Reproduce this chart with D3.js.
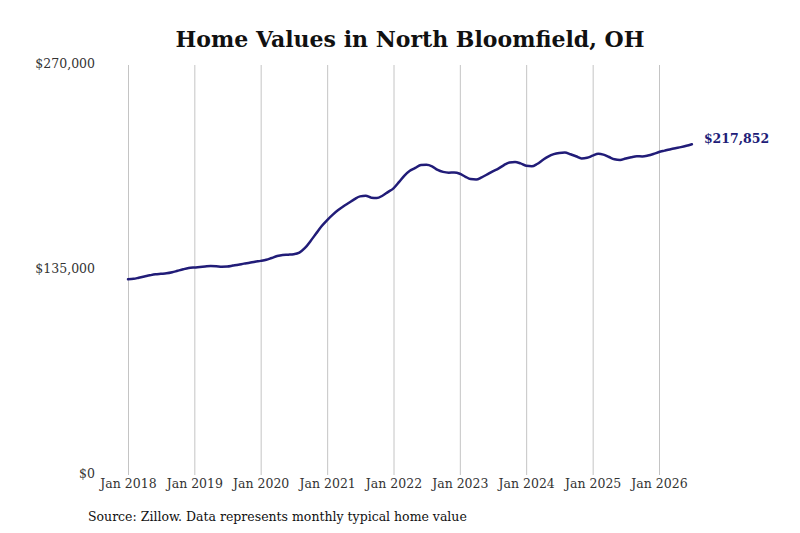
<html>
<head>
	<title>Home Values in North Bloomfield, OH</title>
	<script type="text/javascript" src="https://cdn.jsdelivr.net/npm/d3@7"></script>
	<style>
		body { margin: 0; background: #fff; }
		text { font-family: "DejaVu Serif", serif; }
	</style>
</head>
<body>
	<div id="chart"></div>

	<script type="text/javascript">
	// monthly typical home value, Jan 2018 .. Jul 2026
	var startYear = 2018;
	var homeValues = [
		128900, 129200, 129900, 130700, 131500, 132200, 132500, 132800, 133500, 134500, 135500, 136300,
		136700, 137000, 137300, 137600, 137500, 137200, 137300, 137900, 138500, 139200, 139800, 140500,
		141000, 141700, 142900, 144200, 144900, 145100, 145400, 146500, 149500, 154000, 159000, 163800,
		167900, 171500, 174300, 177000, 179300, 181700, 183500, 183900, 182600, 182400, 183900, 186300,
		188800, 193000, 197000, 200300, 202200, 204200, 204300, 203300, 200900, 199600, 199100, 199200,
		198400, 196400, 194900, 194600, 196000, 198000, 200000, 201800, 204100, 205800, 206200, 205200,
		203600, 203300, 204800, 207400, 209700, 211300, 212100, 212400, 211200, 209900, 208500, 208900,
		210300, 211500, 211000, 209400, 207900, 207400, 208400, 209300, 209900, 209800, 210400, 211400,
		212700, 213600, 214400, 215200, 215900, 216800, 217852
	];
	var yTicks = [0, 135000, 270000];
	var xTickYears = [2018, 2019, 2020, 2021, 2022, 2023, 2024, 2025, 2026];

	var width = 800, height = 533;
	var lineColor = "#211c78";

	var svg = d3.select('#chart').append('svg')
		.attr('width', width)
		.attr('height', height);

	var data = homeValues.map(function(v, i){
		return { date: new Date(startYear, i, 1), value: v };
	});

	var x = d3.scaleTime()
		.domain([new Date(2018, 0, 1), new Date(2026, 0, 1)])
		.range([128, 659]);

	var y = d3.scaleLinear()
		.domain([0, 270000])
		.range([475, 65]);

	// title
	svg.append('text')
		.attr('x', 410)
		.attr('y', 47)
		.attr('text-anchor', 'middle')
		.style('font-size', '22px')
		.style('font-weight', 'bold')
		.style('fill', '#111')
		.text('Home Values in North Bloomfield, OH');

	// vertical grid + x labels
	var xAxis = d3.axisBottom(x)
		.tickValues(xTickYears.map(function(yr){ return new Date(yr, 0, 1); }))
		.tickSize(-(475 - 65))
		.tickPadding(4)
		.tickFormat(d3.timeFormat('Jan %Y'));

	var gx = svg.append('g')
		.attr('transform', 'translate(0,475)')
		.call(xAxis);
	gx.select('.domain').remove();
	gx.selectAll('line').attr('stroke', '#c4c4c4').attr('stroke-width', 1);
	gx.selectAll('text')
		.style('font-size', '12.5px')
		.style('fill', '#333');

	// y labels, no lines
	var yAxis = d3.axisLeft(y)
		.tickValues(yTicks)
		.tickSize(0)
		.tickPadding(0)
		.tickFormat(function(d){ return '$' + d3.format(',')(d); });

	var gy = svg.append('g')
		.attr('transform', 'translate(95,-2)')
		.call(yAxis);
	gy.select('.domain').remove();
	gy.selectAll('text')
		.style('font-size', '12.5px')
		.style('fill', '#333');

	// the line
	var line = d3.line()
		.x(function(d){ return x(d.date); })
		.y(function(d){ return y(d.value); })
		.curve(d3.curveMonotoneX);

	svg.append('path')
		.datum(data)
		.attr('d', line)
		.attr('fill', 'none')
		.attr('stroke', lineColor)
		.attr('stroke-width', 2.5)
		.attr('stroke-linejoin', 'round')
		.attr('stroke-linecap', 'round');

	// last value label
	var last = data[data.length - 1];
	svg.append('text')
		.attr('x', x(last.date) + 12)
		.attr('y', y(last.value) - 6)
		.attr('dy', '0.35em')
		.style('font-size', '12.5px')
		.style('font-weight', 'bold')
		.style('fill', lineColor)
		.text('$' + d3.format(',')(last.value));

	// source
	svg.append('text')
		.attr('x', 88)
		.attr('y', 521)
		.style('font-size', '12.5px')
		.style('fill', '#111')
		.text('Source: Zillow. Data represents monthly typical home value');
	</script>
</body>
</html>
